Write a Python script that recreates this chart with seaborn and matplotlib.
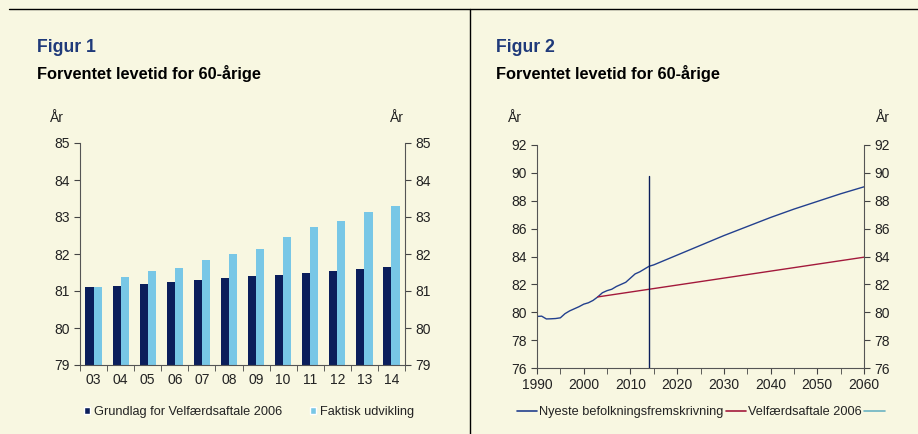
import numpy as np
import pandas as pd
import matplotlib
matplotlib.use("Agg")
import matplotlib.pyplot as plt
import seaborn as sns
from matplotlib.lines import Line2D
from matplotlib.patches import Patch

# ---- data ----
bar_years = ["03", "04", "05", "06", "07", "08", "09", "10", "11", "12", "13", "14"]
grundlag = [81.10, 81.14, 81.19, 81.25, 81.29, 81.35, 81.40, 81.44, 81.49, 81.55, 81.59, 81.64]
faktisk = [81.10, 81.38, 81.53, 81.63, 81.84, 81.99, 82.14, 82.46, 82.74, 82.90, 83.14, 83.29]

nyeste_years = [1990, 1991, 1992, 1993, 1994, 1995, 1996, 1997, 1998, 1999, 2000, 2001, 2002,
                2003, 2004, 2005, 2006, 2007, 2008, 2009, 2010, 2011, 2012, 2013, 2014, 2015,
                2020, 2025, 2030, 2035, 2040, 2045, 2050, 2055, 2060]
nyeste_vals = [79.70, 79.72, 79.52, 79.53, 79.55, 79.60, 79.90, 80.10, 80.25, 80.40, 80.58, 80.68,
               80.85, 81.10, 81.40, 81.55, 81.65, 81.85, 82.00, 82.15, 82.45, 82.75, 82.90, 83.10,
               83.30, 83.40, 84.10, 84.80, 85.50, 86.15, 86.80, 87.40, 87.95, 88.50, 89.00]
velf_years = [2003, 2014, 2020, 2030, 2040, 2050, 2060]
velf_vals = [81.10, 81.65, 81.95, 82.45, 82.95, 83.45, 83.95]
vline_year = 2014.0
vline_top = 89.8

series_names = ["Grundlag for Velfærdsaftale 2006", "Faktisk udvikling"]
line_names = ["Nyeste befolkningsfremskrivning", "Velfærdsaftale 2006"]

# ---- style ----
BG = "#F8F7E1"
NAVY = "#0B1E5B"
LIGHT = "#78C7E6"
LBLUE = "#23408E"
RED = "#A3193B"
TEAL = "#6BB3C2"
TXT = "#222222"
TICK_FS = 10

sns.set_style("white")
plt.rcParams["font.family"] = ["Liberation Sans", "DejaVu Sans"]

W, H = 918, 434
fig = plt.figure(figsize=(W / 100, H / 100), dpi=100, facecolor=BG)


def box(l, t, r, b):
    return [l / W, 1 - b / H, (r - l) / W, (b - t) / H]


# frame lines
fig.add_artist(Line2D([9 / W, 1], [1 - 9 / H, 1 - 9 / H], color="black", lw=1.0))
fig.add_artist(Line2D([470 / W, 470 / W], [0, 1 - 9 / H], color="black", lw=1.0))

# titles
for x0, n in [(37, "1"), (496, "2")]:
    fig.text(x0 / W, 1 - 47 / H, f"Figur {n}", color="#1F3A7A", fontsize=12.7, fontweight="bold", va="center")
    fig.text(x0 / W, 1 - 73 / H, "Forventet levetid for 60-årige", color="black", fontsize=11.8,
             fontweight="bold", va="center")

# ---- figure 1 ----
ax1 = fig.add_axes(box(80, 143, 405, 365))
ax1.set_facecolor(BG)
df = pd.DataFrame({
    "year": bar_years * 2,
    "value": grundlag + faktisk,
    "series": [series_names[0]] * len(bar_years) + [series_names[1]] * len(bar_years),
})
sns.barplot(data=df, x="year", y="value", hue="series", palette=[NAVY, LIGHT], width=0.6, gap=0,
            ax=ax1, legend=False, saturation=1, linewidth=0)
ax1.set_ylim(79, 85)
ax1.set_xlim(-0.5, len(bar_years) - 0.5)
ax1.set_xlabel("")
ax1.set_ylabel("")
ax1.set_yticks(range(79, 86))
ax1.set_xticks(np.arange(-0.5, len(bar_years), 1.0), minor=True)
ax1.tick_params(axis="x", which="major", length=0, labelsize=TICK_FS, colors=TXT, pad=6)
ax1.tick_params(axis="x", which="minor", length=4, direction="out", color="#444444", bottom=True)
ax1.tick_params(axis="y", which="major", length=4, direction="out", left=True, right=True,
                labelleft=True, labelright=True, labelsize=TICK_FS, colors=TXT, color="#444444")
for s in ["left", "right", "bottom"]:
    ax1.spines[s].set_color("#555555")
    ax1.spines[s].set_linewidth(0.8)
ax1.spines["top"].set_visible(False)
fig.text(57 / W, 1 - 118 / H, "År", fontsize=TICK_FS, color=TXT, va="center", ha="center")
fig.text(397 / W, 1 - 118 / H, "År", fontsize=TICK_FS, color=TXT, va="center", ha="center")

# ---- figure 2 ----
ax2 = fig.add_axes(box(537, 145, 864, 368))
ax2.set_facecolor(BG)
sns.lineplot(x=nyeste_years, y=nyeste_vals, color=LBLUE, lw=1.0, ax=ax2)
sns.lineplot(x=velf_years, y=velf_vals, color=RED, lw=1.0, ax=ax2)
ax2.plot([vline_year, vline_year], [76, vline_top], color=NAVY, lw=1.0)
ax2.set_xlim(1990, 2060)
ax2.set_ylim(76, 92)
ax2.set_xticks(range(1990, 2061, 10))
ax2.set_xticks(range(1990, 2061, 5), minor=True)
ax2.set_yticks(range(76, 93, 2))
ax2.tick_params(axis="x", which="both", length=4, direction="out", bottom=True, labelsize=TICK_FS,
                colors=TXT, color="#444444")
ax2.tick_params(axis="y", which="major", length=4, direction="out", left=True, right=True,
                labelleft=True, labelright=True, labelsize=TICK_FS, colors=TXT, color="#444444")
for s in ["left", "right", "bottom"]:
    ax2.spines[s].set_color("#555555")
    ax2.spines[s].set_linewidth(0.8)
ax2.spines["top"].set_visible(False)
fig.text(515 / W, 1 - 118 / H, "År", fontsize=TICK_FS, color=TXT, va="center", ha="center")
fig.text(883 / W, 1 - 118 / H, "År", fontsize=TICK_FS, color=TXT, va="center", ha="center")

# ---- legends ----
h1 = [Patch(facecolor=NAVY, label=series_names[0]), Patch(facecolor=LIGHT, label=series_names[1])]
fig.legend(handles=h1, loc="center left", bbox_to_anchor=(72 / W, 1 - 412 / H), ncol=2, frameon=False,
           fontsize=9.2, handlelength=0.5, handleheight=0.5, handletextpad=0.3, columnspacing=2.2,
           labelcolor=TXT)
h2 = [Line2D([], [], color=LBLUE, lw=1.2, label=line_names[0]),
      Line2D([], [], color=RED, lw=1.2, label=line_names[1]),
      Line2D([], [], color=TEAL, lw=1.2, label="")]
fig.legend(handles=h2, loc="center left", bbox_to_anchor=(505 / W, 1 - 412 / H), ncol=3, frameon=False,
           fontsize=9.2, handlelength=1.6, handletextpad=0.15, columnspacing=0.2, labelcolor=TXT)

fig.savefig("out.png", dpi=100, facecolor=BG)
